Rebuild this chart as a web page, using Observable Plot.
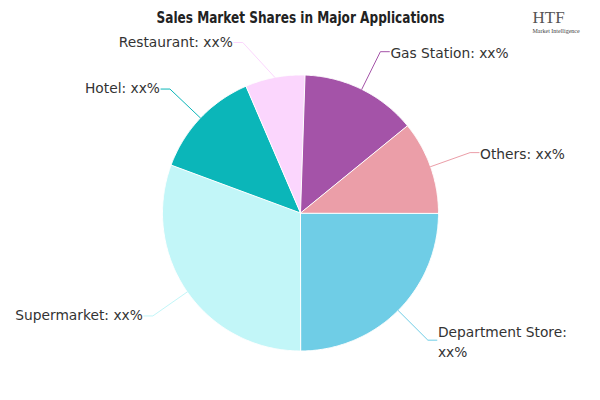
<!DOCTYPE html>
<html><head><meta charset="utf-8">
<script src="https://cdn.jsdelivr.net/npm/d3@7"></script>
<script src="https://cdn.jsdelivr.net/npm/@observablehq/plot@0.6"></script>
<style>body{margin:0;background:#fff}</style>
</head><body><div id="chart"></div>
<script>
// ---- data ----
const categories = ["Department Store", "Supermarket", "Hotel", "Restaurant", "Gas Station", "Others"];
const shares = [25.0, 30.7, 12.9, 7.0, 13.6, 10.9];
const colors = ["#6fcde6", "#c2f6f8", "#0bb6b9", "#fbd6fd", "#a453a8", "#eb9ea8"];
const valueLabel = "xx%";
const titleText = "Sales Market Shares in Major Applications";

// ---- layout ----
const W = 600, H = 400, cx = 300, cy = 212.5, R = 138, labelR = 180, tail = 9, topLimit = 42;
const total = d3.sum(shares);
let acc = 0;
const slices = categories.map((name, i) => {
  const a0 = acc / total * 2 * Math.PI; acc += shares[i];
  const a1 = acc / total * 2 * Math.PI;
  return {name, value: shares[i], color: colors[i], a0, a1, mid: (a0 + a1) / 2};
});

const polys = slices.map(s => {
  const n = Math.max(2, Math.ceil((s.a1 - s.a0) / (Math.PI / 360)));
  const pts = [{x: cx, y: cy}];
  for (let k = 0; k <= n; k++) {
    const a = s.a0 + (s.a1 - s.a0) * k / n;
    pts.push({x: cx + R * Math.cos(a), y: cy + R * Math.sin(a)});
  }
  return {s, pts};
});

const labels = slices.map(s => {
  const right = Math.cos(s.mid) >= 0;
  let y = Math.max(cy + labelR * Math.sin(s.mid), topLimit);
  const dy = y - cy;
  const bx = cx + (right ? 1 : -1) * Math.sqrt(Math.max(0, labelR * labelR - dy * dy));
  return {
    name: s.name, color: s.color, right,
    ex: cx + R * Math.cos(s.mid), ey: cy + R * Math.sin(s.mid),
    bx, by: y, tx: bx + (right ? tail : -tail),
    text: `${s.name}: ${valueLabel}`
  };
});
const connectorPts = labels.flatMap(l => [
  {name: l.name, color: l.color, x: l.ex, y: l.ey},
  {name: l.name, color: l.color, x: l.bx, y: l.by},
  {name: l.name, color: l.color, x: l.tx, y: l.by}
]);

const font = "'DejaVu Sans', Verdana, sans-serif";

const chart = Plot.plot({
  width: W, height: H,
  margin: 0,
  x: {domain: [0, W], range: [0, W], axis: null},
  y: {domain: [0, H], range: [0, H], axis: null},
  color: {type: "identity"},
  style: {background: "#fff"},
  marks: [
    ...polys.map(p => Plot.line(p.pts, {x: "x", y: "y", fill: p.s.color, stroke: "#fff", strokeWidth: 1, curve: "linear-closed"})),
    Plot.line(connectorPts, {x: "x", y: "y", z: "name", stroke: "color", strokeWidth: 1}),
    Plot.text(labels.filter(l => l.right), {x: "tx", y: "by", text: "text", textAnchor: "start", dx: 1,
      fontSize: 13.8, fontFamily: font, fill: "#333", lineWidth: 9, lineHeight: 1.45}),
    Plot.text(labels.filter(l => !l.right), {x: "tx", y: "by", text: "text", textAnchor: "end", dx: -1,
      fontSize: 13.8, fontFamily: font, fill: "#333", lineWidth: 20}),
    Plot.text([titleText], {frameAnchor: "top", dy: 12, text: d => d, fontSize: 15, fontWeight: "bold",
      fontFamily: "'Liberation Sans Narrow', 'DejaVu Sans Condensed', 'Arial Narrow', sans-serif", fill: "#222", className: "ttl"}),
    Plot.text(["HTF"], {frameAnchor: "top-right", dx: -68, dy: 10, text: d => d, textAnchor: "start", fontSize: 17,
      fontFamily: "'Liberation Serif', 'DejaVu Serif', serif", fill: "#555"}),
    Plot.text(["Market Intelligence"], {frameAnchor: "top-right", dx: -68, dy: 28, text: d => d, textAnchor: "start", fontSize: 6,
      fontFamily: "'Liberation Serif', serif", fill: "#444"})
  ]
});
document.getElementById("chart").appendChild(chart);
// keep the condensed title at the reference width
const t = chart.querySelector(".ttl text");
if (t) { t.setAttribute("textLength", 288); t.setAttribute("lengthAdjust", "spacingAndGlyphs"); }
</script>
</body></html>
